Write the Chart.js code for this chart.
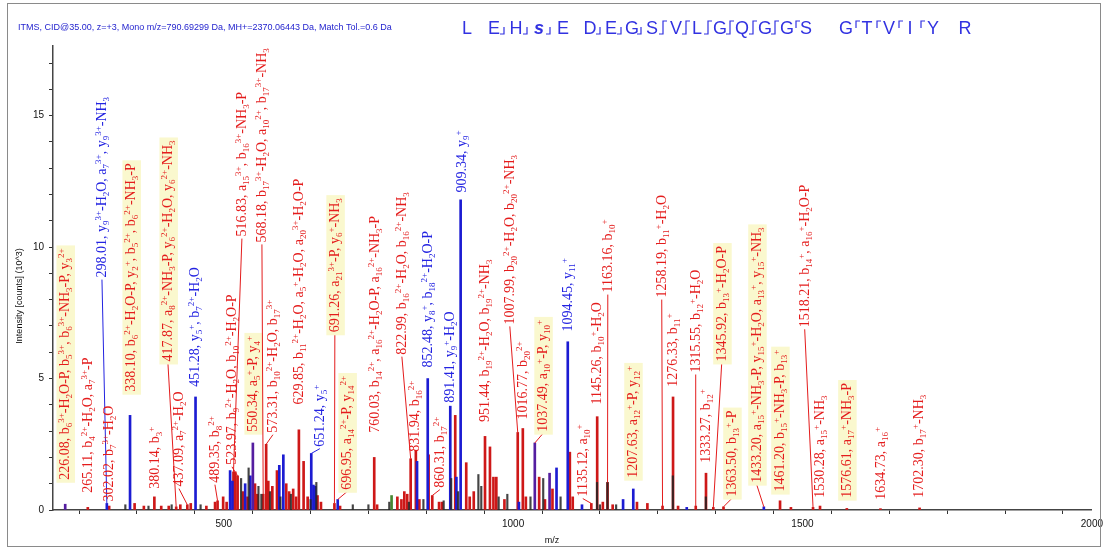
<!DOCTYPE html>
<html><head><meta charset="utf-8">
<script src="https://cdn.jsdelivr.net/npm/chart.js@4.4.1/dist/chart.umd.min.js"></script>
<style>html,body{margin:0;padding:0;background:#fff;}#wrap{width:1107px;height:551px;position:relative;}</style>
</head><body><div id="wrap"><canvas id="c" width="1107" height="551"></canvas></div>
<script>
// ---------- DATA ----------
const titleText = "ITMS, CID@35.00, z=+3, Mono m/z=790.69299 Da, MH+=2370.06443 Da, Match Tol.=0.6 Da";
const seqLetters = ['L','E','H','s','E','D','E','G','S','V','L','G','Q','G','G','S','G','T','V','I','Y','R'];
// fragment marks after each residue: 0 none, 1 b-ion (bottom), 2 y-ion (top), 3 both
const seqMarks = [0,1,1,1,0,1,1,1,3,3,3,3,3,3,2,0,2,2,2,2,0];
const xTickLabels = [500, 1000, 1500, 2000];
const yTickLabels = [0, 5, 10, 15];

// annotated peaks
const annMz = [226.08,265.11,298.01,302.02,338.10,380.14,417.87,437.09,451.28,489.35,516.83,523.97,550.34,568.18,573.31,629.85,651.24,691.26,696.95,760.03,822.99,831.94,852.48,860.31,891.41,909.34,951.44,1007.99,1016.77,1037.49,1094.45,1135.12,1145.26,1163.16,1207.63,1258.19,1276.33,1315.55,1333.27,1345.92,1363.50,1433.20,1461.20,1518.21,1530.28,1576.61,1634.73,1702.30];
const annInt = [0.22,0.1,0.25,0.15,3.6,0.5,0.12,0.2,4.3,0.35,1.45,1.3,2.55,0.6,2.5,3.05,2.15,0.25,0.4,2.0,1.95,2.25,5.0,0.55,3.95,11.8,2.8,2.95,3.1,2.55,6.4,0.25,3.55,1.05,0.8,0.15,4.3,0.15,1.4,0.1,0.12,0.12,0.35,0.1,0.15,0.06,0.05,0.08];
const annPeakKind = ['by','b','y','b','y','b','b','b','y','b','b','b','by','b','b','b','y','b','y','b','b','b','y','b','y','y','b','b','b','by','y','b','b','b','y','b','b','b','b','b','b','y','b','b','b','b','b','b'];
const annLabelKind = ['b','b','y','b','b','b','b','b','y','b','b','b','b','b','b','b','y','b','b','b','b','b','y','b','y','y','b','b','b','b','y','b','b','b','b','b','b','b','b','b','b','b','b','b','b','b','b','b'];
const annHighlight = [1,0,0,0,1,0,1,0,0,0,0,0,1,0,0,0,0,1,1,0,0,0,0,0,0,0,0,0,0,1,0,0,0,0,1,0,0,0,0,1,1,1,1,0,0,1,0,0];
const annLabel = [
"226.08, b_{6}^{3+}-H_{2}O-P, b_{5}^{3+}, b_{6}^{3+}-NH_{3}-P, y_{3}^{2+}",
"265.11, b_{4}^{2+}-H_{2}O, a_{7}^{3+}-P",
"298.01, y_{9}^{3+}-H_{2}O, a_{7}^{3+}, y_{9}^{3+}-NH_{3}",
"302.02, b_{7}^{3+}-H_{2}O",
"338.10, b_{6}^{2+}-H_{2}O-P, y_{2}^{+}, b_{5}^{2+}, b_{6}^{2+}-NH_{3}-P",
"380.14, b_{3}^{+}",
"417.87, a_{8}^{2+}-NH_{3}-P, y_{6}^{2+}-H_{2}O, y_{6}^{2+}-NH_{3}",
"437.09, a_{7}^{2+}-H_{2}O",
"451.28, y_{5}^{+}, b_{7}^{2+}-H_{2}O",
"489.35, b_{8}^{2+}",
"516.83, a_{15}^{3+}, b_{16}^{3+}-NH_{3}-P",
"523.97, b_{9}^{2+}-H_{2}O, b_{10}^{2+}-H_{2}O-P",
"550.34, a_{5}^{+}-P, y_{4}^{+}",
"568.18, b_{17}^{3+}-H_{2}O, a_{10}^{2+}, b_{17}^{3+}-NH_{3}",
"573.31, b_{10}^{2+}-H_{2}O, b_{17}^{3+}",
"629.85, b_{11}^{2+}-H_{2}O, a_{5}^{+}-H_{2}O, a_{20}^{3+}-H_{2}O-P",
"651.24, y_{5}^{+}",
"691.26, a_{21}^{3+}-P, y_{6}^{+}-NH_{3}",
"696.95, a_{14}^{2+}-P, y_{14}^{2+}",
"760.03, b_{14}^{2+}, a_{16}^{2+}-H_{2}O-P, a_{16}^{2+}-NH_{3}-P",
"822.99, b_{16}^{2+}-H_{2}O, b_{16}^{2+}-NH_{3}",
"831.94, b_{16}^{2+}",
"852.48, y_{8}^{+}, b_{18}^{2+}-H_{2}O-P",
"860.31, b_{17}^{2+}",
"891.41, y_{9}^{+}-H_{2}O",
"909.34, y_{9}^{+}",
"951.44, b_{19}^{2+}-H_{2}O, b_{19}^{2+}-NH_{3}",
"1007.99, b_{20}^{2+}-H_{2}O, b_{20}^{2+}-NH_{3}",
"1016.77, b_{20}^{2+}",
"1037.49, a_{10}^{+}-P, y_{10}^{+}",
"1094.45, y_{11}^{+}",
"1135.12, a_{10}^{+}",
"1145.26, b_{10}^{+}-H_{2}O",
"1163.16, b_{10}^{+}",
"1207.63, a_{12}^{+}-P, y_{12}^{+}",
"1258.19, b_{11}^{+}-H_{2}O",
"1276.33, b_{11}^{+}",
"1315.55, b_{12}^{+}-H_{2}O",
"1333.27, b_{12}^{+}",
"1345.92, b_{13}^{+}-H_{2}O-P",
"1363.50, b_{13}^{+}-P",
"1433.20, a_{15}^{+}-NH_{3}-P, y_{15}^{+}-H_{2}O, a_{13}^{+}, y_{15}^{+}-NH_{3}",
"1461.20, b_{15}^{+}-NH_{3}-P, b_{13}^{+}",
"1518.21, b_{14}^{+}, a_{16}^{+}-H_{2}O-P",
"1530.28, a_{15}^{+}-NH_{3}",
"1576.61, a_{17}^{+}-NH_{3}-P",
"1634.73, a_{16}^{+}",
"1702.30, b_{17}^{+}-NH_{3}"
];

// unannotated peaks [m/z, intensity x10^3]
const otherRed = [[346,0.25],[362,0.15],[392,0.15],[405,0.15],[425,0.2],[443,0.25],[470,0.15],[485,0.3],[499,0.5],[505,0.3],[520,1.45],[533,0.7],[541,0.5],[554,1.0],[558,0.6],[577,1.1],[584,0.9],[592,1.5],[608,1.0],[613,0.7],[620,0.8],[625,0.5],[638,1.85],[645,0.5],[662,0.55],[668,0.3],[701,0.15],[765,0.2],[800,0.5],[807,0.4],[812,0.7],[817,0.6],[838,0.4],[854,2.1],[872,0.3],[877,0.3],[900,3.6],[919,1.8],[925,0.5],[932,0.7],[960,2.4],[966,1.25],[971,1.25],[985,0.4],[1022,0.5],[1045,1.25],[1055,0.4],[1068,0.8],[1098,2.2],[1103,0.5],[1155,0.3],[1172,0.2],[1214,0.3],[1232,0.25],[1285,0.15],[1480,0.1]];
const otherBlue = [[511,1.5],[515,1.1],[537,1.0],[546,1.3],[596,1.7],[603,2.1],[655,0.95],[658,0.9],[834,1.85],[902,1.25],[1010,0.3],[1075,1.6],[1119,0.2],[1190,0.4],[1300,0.1]];
const otherPurple = [[1063,1.4]];
const otherDark = [[330,0.2],[370,0.15],[410,0.2],[460,0.2],[530,1.2],[543,1.6],[560,0.9],[565,0.6],[580,0.7],[598,0.5],[616,0.6],[650,0.4],[660,1.05],[723,0.2],[750,0.2],[786,0.3],[820,0.3],[845,0.4],[880,0.35],[893,1.2],[905,0.7],[940,1.35],[945,0.9],[975,0.5],[990,0.6],[1030,0.5],[1052,1.2],[1082,0.5],[1145,1.05],[1150,0.2],[1163,1.05],[1178,0.2],[1276,1.3],[1333,0.5]];
const otherGreen = [[790,0.55]];

// label layout: [text column m/z, label base intensity, leader line]
const annLayout = [[225.7,1.15,0],[265.4,0.66,0],[289.6,8.84,1],[301.7,0.32,0],[339.7,4.5,0],[381.2,0.81,0],[403.6,5.65,1],[422.6,0.89,1],[450.3,4.69,0],[484.8,1.04,1],[531.4,10.4,1],[514.2,1.72,1],[550.4,2.98,0],[566,10.18,1],[585,2.94,1],[629.9,4.01,0],[666.1,2.41,1],[692,6.76,1],[712.8,0.77,1],[761.1,2.94,0],[807.8,5.91,1],[830.2,2.22,0],[852.7,5.42,0],[873.4,0.85,1],[890.7,4.08,0],[911.4,12.08,0],[951.1,3.35,0],[994.3,7.06,1],[1016.7,3.44,0],[1051.3,2.98,1],[1094.5,6.79,0],[1120.4,0.51,1],[1144.6,4.01,0],[1163.6,8.27,1],[1206.7,1.23,0],[1256.8,8.08,1],[1275.8,4.69,0],[1315.5,5.23,1],[1332.8,1.8,0],[1360.4,5.65,1],[1377.7,0.51,1],[1420.9,1.04,1],[1460.6,0.7,0],[1503.8,6.95,1],[1529.7,0.47,0],[1576.3,0.47,0],[1635,0.39,0],[1700.6,0.47,0]];
// sequence letter centre positions (px)
const seqX = [467,494,516,539,563,590,611,632,652,676,697,720,742,765,787,806,846,867,889,910,933,965];

// ---------- BUILD ----------
const RED='rgb(206,24,24)', BLUE='rgb(28,28,210)', PURPLE='rgb(84,30,160)', DARK='rgba(35,35,35,0.85)', GREEN='rgb(70,135,50)';
const LRED='rgb(228,28,28)', LBLUE='rgb(35,35,225)';
function pts(arr){return arr.map(p=>({x:p[0],y:p[1]}));}
function annPts(kind){const o=[];annMz.forEach((m,i)=>{if(annPeakKind[i]===kind)o.push({x:m,y:annInt[i]});});return o;}
const redData = annPts('b').concat(pts(otherRed));
const blueData = annPts('y').concat(pts(otherBlue));
const purpleData = annPts('by').concat(pts(otherPurple));

function parseRich(s){const segs=[];let i=0,buf='';while(i<s.length){const c=s[i];if((c==='_'||c==='^')&&s[i+1]==='{'){if(buf){segs.push({t:buf,m:0});buf='';}const j=s.indexOf('}',i);segs.push({t:s.slice(i+2,j),m:c==='_'?1:2});i=j+1;}else{buf+=c;i++;}}if(buf)segs.push({t:buf,m:0});return segs;}
const FS=14, SS=9, FF='"Liberation Serif", "Times New Roman", serif';
function richWidth(ctx,segs){let w=0;for(const s of segs){ctx.font=(s.m?SS:FS)+'px '+FF;w+=ctx.measureText(s.t).width;}return w;}
function drawRich(ctx,segs){let x=0;for(const s of segs){ctx.font=(s.m?SS:FS)+'px '+FF;const dy=s.m===1?3:(s.m===2?-5:0);ctx.fillText(s.t,x,dy);x+=ctx.measureText(s.t).width;}}

const overlay={id:'overlay',
 beforeDraw(chart){const c=chart.ctx;c.save();c.fillStyle='#fff';c.fillRect(0,0,chart.width,chart.height);c.restore();},
 afterDatasetsDraw(chart){
  const c=chart.ctx,xs=chart.scales.x,ys=chart.scales.y;
  c.save();
  annLabel.forEach((lab,i)=>{
   const L=annLayout[i];const px=xs.getPixelForValue(L[0]);const by=ys.getPixelForValue(L[1]);
   const col=annLabelKind[i]==='y'?LBLUE:LRED;
   const segs=parseRich(lab);const w=richWidth(c,segs);
   if(L[2]){c.strokeStyle=col;c.lineWidth=1;c.beginPath();c.moveTo(px,by+2);c.lineTo(xs.getPixelForValue(annMz[i]),ys.getPixelForValue(annInt[i]));c.stroke();}
   c.save();c.translate(px+4.5,by);c.rotate(-Math.PI/2);
   if(annHighlight[i]){c.fillStyle='rgb(250,248,206)';c.fillRect(-3,-13,w+6,18.5);}
   c.fillStyle=col;c.textBaseline='alphabetic';c.textAlign='left';drawRich(c,segs);
   c.restore();
  });
  c.restore();
 },
 afterDraw(chart){
  const c=chart.ctx;c.save();
  c.strokeStyle='#8a8a8a';c.lineWidth=1;c.strokeRect(7.5,3.5,1093,543);
  c.fillStyle='rgb(30,30,205)';c.font='9px "Liberation Sans", Arial, sans-serif';c.textBaseline='middle';c.textAlign='left';
  c.fillText(titleText,18,28);
  // sequence
  c.fillStyle='rgb(50,50,225)';c.strokeStyle='rgb(50,50,225)';c.lineWidth=1.2;c.textAlign='center';c.textBaseline='alphabetic';
  seqLetters.forEach((l,i)=>{c.font=(l==='s'?'bold italic ':'')+'18px "Liberation Sans", Arial, sans-serif';c.fillText(l,seqX[i],34);});
  seqMarks.forEach((m,i)=>{if(!m)return;const x=Math.round((seqX[i]+seqX[i+1])/2)-1;c.beginPath();
   if(m&2){c.moveTo(x+4,21);c.lineTo(x,21);c.lineTo(x,28);} 
   if(m&1){c.moveTo(x,m&2?28:27);c.lineTo(x,34);c.lineTo(x-4,34);}
   c.stroke();});
  // axis titles
  c.fillStyle='#111';c.font='9px "Liberation Sans", Arial, sans-serif';c.textAlign='center';c.textBaseline='middle';
  c.fillText('m/z',552,541);
  c.translate(20,296);c.rotate(-Math.PI/2);c.fillText('Intensity [counts] (10^3)',0,0);
  c.restore();
 }};

new Chart(document.getElementById('c'),{
 type:'bar',
 data:{datasets:[
  {data:pts(otherDark),backgroundColor:DARK,barThickness:1.5,grouped:false},
  {data:pts(otherGreen),backgroundColor:GREEN,barThickness:2,grouped:false},
  {data:purpleData,backgroundColor:PURPLE,barThickness:2,grouped:false},
  {data:blueData,backgroundColor:BLUE,barThickness:2,grouped:false},
  {data:redData,backgroundColor:RED,barThickness:2,grouped:false}
 ]},
 options:{responsive:false,animation:false,
  layout:{padding:{left:0,top:46,right:14,bottom:0}},
  plugins:{legend:{display:false},tooltip:{enabled:false}},
  scales:{
   x:{type:'linear',min:205,max:2000,offset:false,
      afterFit(s){s.height=41;},
      afterBuildTicks(s){const t=[];for(let v=300;v<=2000;v+=100)t.push({value:v});s.ticks=t;},
      grid:{drawOnChartArea:false,drawTicks:true,tickLength:4,color:'#333'},
      border:{display:true,color:'#444',width:1.5},
      ticks:{autoSkip:false,maxRotation:0,padding:4,color:'#111',font:{family:'"Liberation Sans", Arial, sans-serif',size:10},
        callback:v=>xTickLabels.includes(v)?String(v):''}},
   y:{type:'linear',min:0,max:17.65,
      afterFit(s){s.width=53;},
      afterBuildTicks(s){const t=[];for(let v=0;v<=17;v+=1)t.push({value:v});s.ticks=t;},
      grid:{drawOnChartArea:false,drawTicks:true,tickLength:4,color:'#333'},
      border:{display:true,color:'#444',width:1.5},
      ticks:{autoSkip:false,padding:5,color:'#111',font:{family:'"Liberation Sans", Arial, sans-serif',size:10},
        callback:v=>yTickLabels.includes(v)?String(v):''}}
  }},
 plugins:[overlay]
});
</script></body></html>
